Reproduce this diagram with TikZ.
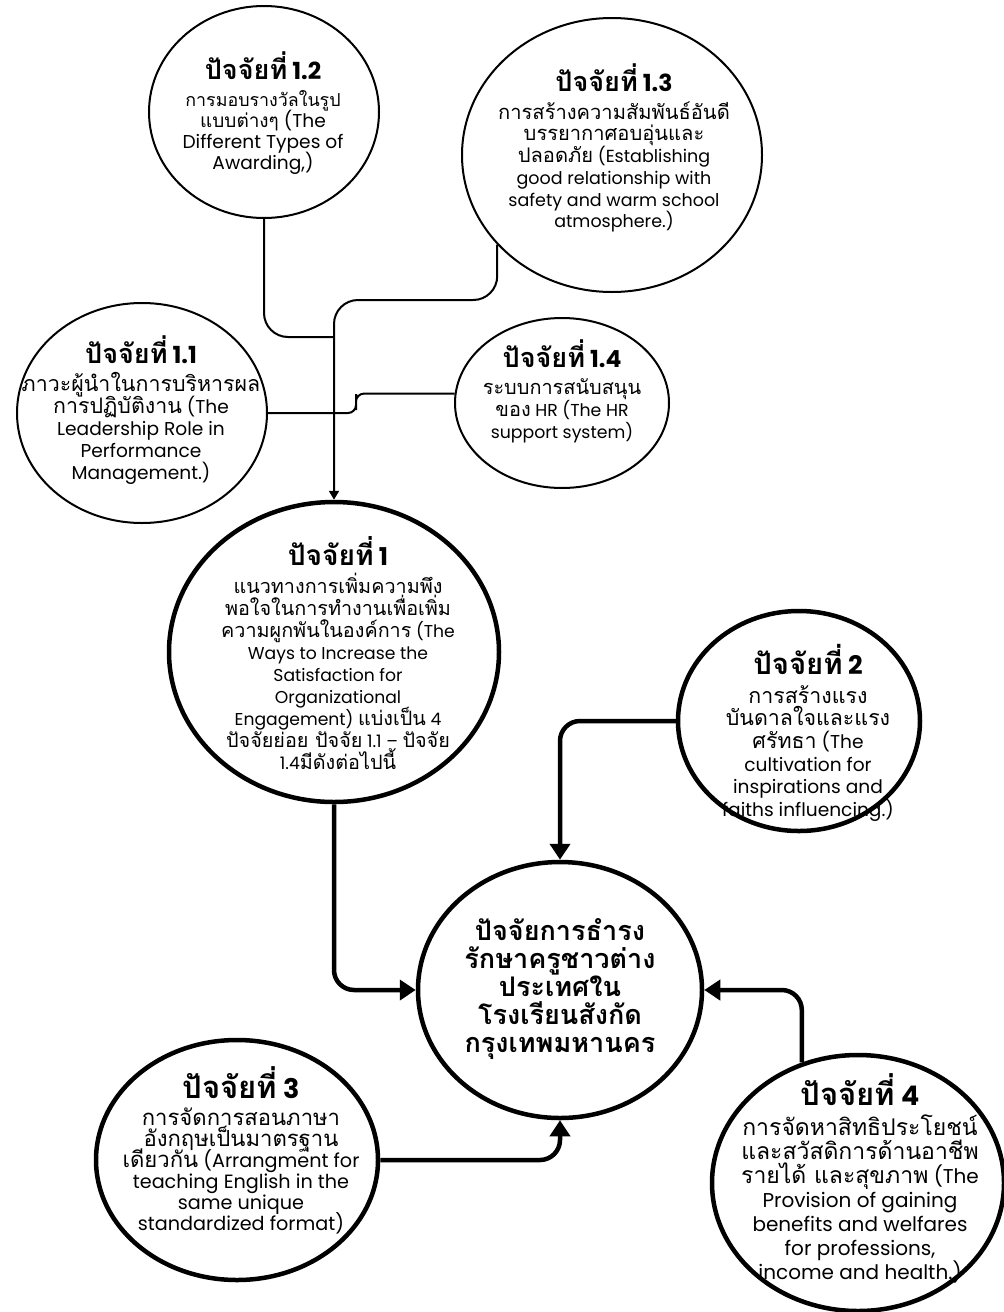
\documentclass[tikz,border=0pt]{standalone}
\usepackage{fontspec}
\setmainfont{Poppins}
\newfontfamily\thaifont[Script=Thai, Scale=1.15]{Loma}
\usetikzlibrary{arrows.meta,shapes.geometric,positioning}

\newcommand{\tht}[1]{{\thaifont #1}}
\newcommand{\fhead}[2][23.5]{{\bfseries\fontsize{#1}{#1}\selectfont\tht{ปัจจัยที่} #2}\\[6pt]}

\tikzset{
  bubble/.style={draw, ellipse, line width=2pt, inner sep=0pt, fill=white},
  bigbubble/.style={bubble, line width=4.5pt},
  words/.style args={#1/#2}{align=center, font={\fontsize{#1}{#2}\selectfont\lineskiplimit=-100pt}},
  thinlink/.style={line width=2pt, rounded corners=24pt},
  thicklink/.style={line width=4.5pt, rounded corners=20pt, -{Triangle[length=16pt,width=20pt]}}
}

\begin{document}
\begin{tikzpicture}[x=1pt, y=-1pt]
    % พื้นหลัง
    \fill[white] (0,0) rectangle (1004,1312);
    \useasboundingbox (0,0) rectangle (1004,1312);

    % ปัจจัยย่อย 1.1 - 1.4
    \node[bubble, minimum width=230pt, minimum height=212pt] (f12) at (264,112) {};
    \node[bubble, minimum width=300pt, minimum height=274pt] (f13) at (612,155) {};
    \node[bubble, minimum width=250pt, minimum height=220pt] (f11) at (142,413) {};
    \node[bubble, minimum width=214pt, minimum height=170pt] (f14) at (562,403) {};

    % ปัจจัยหลัก
    \node[bigbubble, minimum width=330pt, minimum height=300pt] (f1) at (334,652) {};
    \node[bigbubble, minimum width=242pt, minimum height=220pt] (f2) at (799,721) {};
    \node[bigbubble, minimum width=284pt, minimum height=256pt] (hub) at (560,990) {};
    \node[bigbubble, minimum width=282pt, minimum height=240pt] (f3) at (237,1160) {};
    \node[bigbubble, minimum width=292pt, minimum height=256pt] (f4) at (858,1183) {};

    % ข้อความ
    \node[words=18.6/21] (t12) at (263,113) {\fhead{1.2}
        {\fontsize{15.5}{21}\selectfont\tht{การมอบรางวัลในรูป}}\\
        {\fontsize{16.5}{21}\selectfont\tht{แบบต่างๆ}} (The\\ Different Types of\\ Awarding,)};
    \node[words=17.5/21.7] (t13) at (614,148) {\fhead{1.3}
        \tht{การสร้างความสัมพันธ์อันดี}\\ \tht{บรรยากาศอบอุ่นและ}\\
        \tht{ปลอดภัย} (Establishing\\ good relationship with\\
        safety and warm school\\ atmosphere.)};
    \node[words=18.6/22] (t11) at (141,410) {\fhead{1.1}
        \tht{ภาวะผู้นำในการบริหารผล}\\ \tht{การปฏิบัติงาน} (The\\
        Leadership Role in\\ Performance\\ Management.)};
    \node[words=17.3/21.7] (t14) at (562,391) {\fhead{1.4}
        \tht{ระบบการสนับสนุน}\\ \tht{ของ} HR (The HR\\ support system)};
    \node[words=17.2/22] (t1) at (338,653) {\fhead[24.5]{1}
        \tht{แนวทางการเพิ่มความพึง}\\ \tht{พอใจในการทำงานเพื่อเพิ่ม}\\
        \tht{ความผูกพันในองค์การ} (The\\ Ways to Increase the\\
        Satisfaction for\\ Organizational\\ Engagement) \tht{แบ่งเป็น} 4\\
        \tht{ปัจจัยย่อย ปัจจัย} 1.1 – \tht{ปัจจัย}\\ 1.4\tht{มีดังต่อไปนี้}};
    \node[words=18.6/22.7] (t2) at (808,733) {\fhead[25.5]{2}
        \tht{การสร้างแรง}\\ \tht{บันดาลใจและแรง}\\ \tht{ศรัทธา} (The\\
        cultivation for\\ inspirations and\\ faiths influencing.)};
    \node[align=center, font=\bfseries\fontsize{23.5}{28}\selectfont\thaifont] (thub) at (560,989)
        {ปัจจัยการธำรง\\ รักษาครูชาวต่าง\\ ประเทศใน\\ โรงเรียนสังกัด\\ กรุงเทพมหานคร};
    \node[words=19.2/21] (t3) at (241,1150) {\fhead[27]{3}
        \tht{การจัดการสอนภาษา}\\ \tht{อังกฤษเป็นมาตรฐาน}\\
        \tht{เดียวกัน} (Arrangment for\\ teaching English in the\\
        same unique\\ standardized format)};
    \node[words=20/24] (t4) at (860,1178) {\fhead[27]{4}
        \tht{การจัดหาสิทธิประโยชน์}\\ \tht{และสวัสดิการด้านอาชีพ}\\
        \tht{รายได้ และสุขภาพ} (The\\ Provision of gaining\\
        benefits and welfares\\ for professions,\\ income and health.)};

    % เส้นเชื่อมด้านบน
    \coordinate (j12) at (334,337);
    \coordinate (j13) at (334,300);
    \draw[thinlink] (f12.south) |- (j12);
    \draw[thinlink, -{Triangle[length=9pt,width=10pt]}] (f13.218) |- (j13) -- (f1.north);
    \draw[thinlink, rounded corners=8pt] (f11.east) -| (356,402) |- (f14.175);

    % เส้นเชื่อมเข้าสู่ศูนย์กลาง
    \draw[thicklink] (f1.south) |- (hub.west);
    \draw[thicklink] (f2.west) -| (hub.north);
    \draw[thicklink] (f3.east) -| (hub.south);
    \draw[thicklink] (f4.115) |- (hub.east);
\end{tikzpicture}
\end{document}
